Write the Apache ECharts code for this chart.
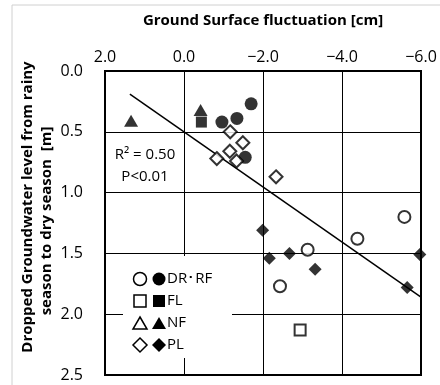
<!DOCTYPE html>
<html><head><meta charset="utf-8">
<script src="https://cdn.jsdelivr.net/npm/echarts@6/dist/echarts.min.js"></script>
<style>html,body{margin:0;padding:0;background:#fff}#c{width:440px;height:385px}</style>
</head><body><div id="c"></div>
<script>
// x: ground surface fluctuation [cm], y: dropped groundwater level [m]
const drrfOpen   = [[-3.13,1.47],[-4.39,1.38],[-5.58,1.20],[-2.43,1.77]];
const drrfFilled = [[-0.96,0.42],[-1.34,0.39],[-1.70,0.27],[-1.55,0.71]];
const flOpen     = [[-2.94,2.13]];
const flFilled   = [[-0.44,0.42]];
const nfFilled   = [[1.34,0.41],[-0.42,0.32]];
const plOpen     = [[-1.17,0.50],[-1.49,0.59],[-1.16,0.66],[-0.83,0.72],[-1.33,0.74],[-2.33,0.87]];
const plFilled   = [[-1.99,1.31],[-2.16,1.54],[-2.67,1.50],[-3.32,1.63],[-5.65,1.78],[-5.97,1.51]];
const trendLine  = [[1.37,0.19],[-6.0,1.86]];
const xTicks = {min:-6, max:2, interval:2};
const yTicks = {min:0, max:2.5, interval:0.5};
const stats = ['R\u00B2 = 0.50','P<0.01'];
const legendRows = [
  {name:'DR\uFF65RF', symbol:'circle'},
  {name:'FL', symbol:'square'},
  {name:'NF', symbol:'triangle'},
  {name:'PL', symbol:'diamond'}
];

const FONT = '"Open Sans", "Noto Sans", sans-serif';
const chart = echarts.init(document.getElementById('c'));
const fmt = v => (v === 0 ? '0.0' : v.toFixed(1).replace('-', '\u2212'));

function openS(data, symbol, size){
  return {type:'scatter', data, symbol, symbolSize:size, z:4,
    itemStyle:{color:'#fff', borderColor:'#000', borderWidth:2}};
}
function fillS(data, symbol, size){
  return {type:'scatter', data, symbol, symbolSize:size, z:4,
    itemStyle:{color:'#000'}};
}

// legend graphics
const legendG = [];
const lx0 = 140, lx1 = 159, ly0 = 279, ldy = 22;
legendRows.forEach((r,i)=>{
  const y = ly0 + i*ldy;
  const mk = (cx, filled) => {
    const st = filled ? {fill:'#000'} : {fill:'#fff', stroke:'#000', lineWidth:1.5};
    if (r.symbol==='circle') return {type:'circle', shape:{cx, cy:y, r:6.5}, style:st, z:20};
    if (r.symbol==='square') return {type:'rect', shape:{x:cx-6, y:y-6, width:12, height:12}, style:st, z:20};
    if (r.symbol==='triangle') return {type:'polygon', shape:{points:[[cx,y-6],[cx+7,y+6],[cx-7,y+6]]}, style:st, z:20};
    return {type:'polygon', shape:{points:[[cx,y-7],[cx+7,y],[cx,y+7],[cx-7,y]]}, style:st, z:20};
  };
  legendG.push(mk(lx0,false), mk(lx1,true));
  legendG.push({type:'text', x:167, y:y, z:20, style:{text:r.name, fill:'#000', font:'15px '+FONT, textVerticalAlign:'middle'}});
});

chart.setOption({
  animation:false,
  grid:{left:105, right:19, top:71, bottom:10, show:true, borderColor:'#000', borderWidth:2, backgroundColor:'transparent', z:3},
  xAxis:{type:'value', position:'top', inverse:true, min:xTicks.min, max:xTicks.max, interval:xTicks.interval,
    axisLine:{show:false}, axisTick:{show:false},
    axisLabel:{formatter:fmt, color:'#000', fontSize:16, fontFamily:FONT, margin:6},
    splitLine:{show:true, lineStyle:{color:'#000', width:1}}},
  yAxis:{type:'value', inverse:true, min:yTicks.min, max:yTicks.max, interval:yTicks.interval,
    axisLine:{show:false}, axisTick:{show:false},
    axisLabel:{formatter:v=>v.toFixed(1), color:'#000', fontSize:16, fontFamily:FONT, margin:22, padding:[7,0,0,0]},
    splitLine:{show:true, lineStyle:{color:'#000', width:1}}},
  series:[
    {type:'line', data:trendLine, symbol:'none', z:3, lineStyle:{color:'#000', width:1.5}},
    openS(drrfOpen,'circle',12),
    fillS(drrfFilled,'circle',13),
    openS(flOpen,'rect',11),
    fillS(flFilled,'rect',11),
    fillS(nfFilled,'triangle',[14,12]),
    openS(plOpen,'diamond',[13,13]),
    fillS(plFilled,'diamond',[13,13])
  ],
  graphic:[
    {type:'rect', shape:{x:12, y:5, width:440, height:400}, style:{fill:'none', stroke:'#d0d0d0', lineWidth:1}, z:0},
    {type:'rect', shape:{x:123, y:256, width:109, height:102}, style:{fill:'#fff'}, z:10},
    {type:'text', x:263, y:21, style:{text:'Ground Surface fluctuation [cm]', fill:'#000', font:'bold 15px '+FONT, textAlign:'center', textVerticalAlign:'middle'}},
    {type:'text', x:28, y:207, rotation:Math.PI/2, style:{text:'Dropped Groundwater level from rainy', fill:'#000', font:'bold 15px '+FONT, textAlign:'center', textVerticalAlign:'middle'}},
    {type:'text', x:47, y:221, rotation:Math.PI/2, style:{text:'season to dry season  [m]', fill:'#000', font:'bold 15px '+FONT, textAlign:'center', textVerticalAlign:'middle'}},
    {type:'text', x:145, y:155, style:{text:stats[0], fill:'#000', font:'15px '+FONT, textAlign:'center', textVerticalAlign:'middle'}},
    {type:'text', x:145, y:177, style:{text:stats[1], fill:'#000', font:'15px '+FONT, textAlign:'center', textVerticalAlign:'middle'}}
  ].concat(legendG)
});
</script></body></html>
